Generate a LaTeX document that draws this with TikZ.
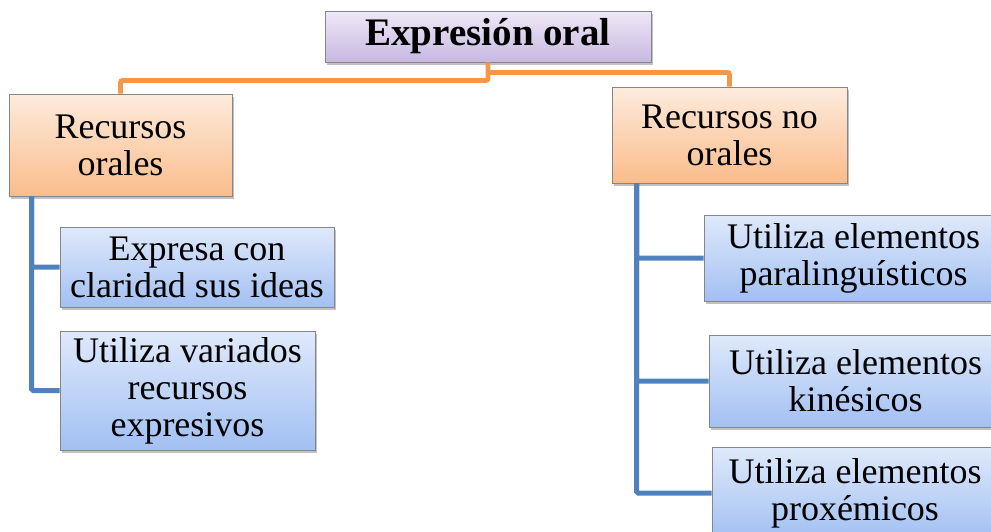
\documentclass[tikz,border=0pt]{standalone}
\usepackage{fontspec}
\setmainfont{Liberation Serif}
\usetikzlibrary{shadows}
\definecolor{oline}{HTML}{F79646}
\definecolor{bline}{HTML}{4F81BD}
\definecolor{ptop}{HTML}{EEE8F6}
\definecolor{pbot}{HTML}{C8B8E2}
\definecolor{otop}{HTML}{FDEBDD}
\definecolor{obot}{HTML}{FBBC8A}
\definecolor{btop}{HTML}{DFE9FB}
\definecolor{bbot}{HTML}{A2C0F3}
\definecolor{bord}{HTML}{868686}
\tikzset{
  box/.style={draw=bord, line width=0.9pt, shading=axis, align=center, inner sep=0pt,
    font=\fontsize{36}{37}\selectfont,
    drop shadow={shadow xshift=2pt, shadow yshift=-2.5pt, opacity=0.35, fill=black!70}},
  titlebox/.style={box, top color=ptop, bottom color=pbot, font=\fontsize{39}{41}\selectfont\bfseries},
  obox/.style={box, top color=otop, bottom color=obot},
  bbox/.style={box, top color=btop, bottom color=bbot},
  oconn/.style={draw=oline, line width=4.8pt, rounded corners=2pt},
  bconn/.style={draw=bline, line width=5pt, rounded corners=1.5pt},
}
\begin{document}
\begin{tikzpicture}[x=1pt, y=-1pt]
\useasboundingbox (0,0) rectangle (991,531);
\clip (0,0) rectangle (991,531);
\node[titlebox, minimum width=326pt, minimum height=51pt] (top) at (488,36.5) {Expresión oral};
\node[obox, minimum width=223pt, minimum height=102pt] (L) at (120.5,145) {Recursos\\orales};
\node[obox, minimum width=235pt, minimum height=96pt] (R) at (729.5,135) {Recursos no\\orales};
\coordinate (lv) at ([xshift=23pt]L.south west);
\coordinate (rv) at ([xshift=25pt]R.south west);
\coordinate (rsplit) at ([yshift=-10pt]top.south);
\draw[oconn] (top.south) -- ++(0,18) -| (L.north);
\draw[oconn] (rsplit) -| (R.north);
\node[bbox, minimum width=274pt, minimum height=80pt] (L1) at (197,267) {Expresa con\\claridad sus ideas};
\node[bbox, minimum width=255pt, minimum height=119pt] (L2) at (187.5,390.5) {Utiliza variados\\recursos\\expresivos};
\node[bbox, minimum width=299pt, minimum height=86pt] (R1) at (853.5,258) {Utiliza elementos\\paralinguísticos};
\node[bbox, minimum width=293pt, minimum height=92pt] (R2) at (855.5,381) {Utiliza elementos\\kinésicos};
\node[bbox, minimum width=286pt, minimum height=92pt] (R3) at (855,493) {Utiliza elementos\\proxémicos};
\draw[bconn] (lv) |- (L1.west);
\draw[bconn] (lv) |- (L2.west);
\draw[bconn] (rv) |- (R1.west);
\draw[bconn] (rv) |- (R2.west);
\draw[bconn] (rv) |- (R3.west);
\end{tikzpicture}
\end{document}
